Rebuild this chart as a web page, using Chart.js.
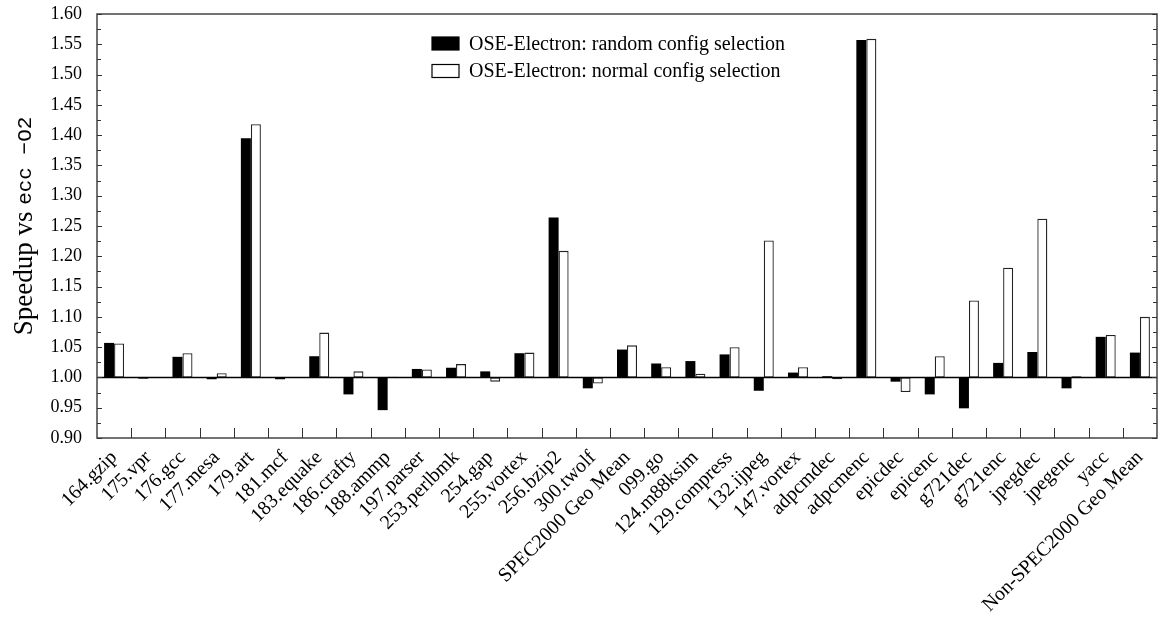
<!DOCTYPE html>
<html>
<head>
<meta charset="utf-8">
<script src="https://cdn.jsdelivr.net/npm/chart.js@4/dist/chart.umd.min.js"></script>
<style>
  html, body { margin: 0; padding: 0; background: #fff; }
  #wrap { width: 1158px; height: 619px; }
</style>
</head>
<body>
<div id="wrap"><canvas id="c" width="1158" height="619"></canvas></div>
<script>
const categories = ["164.gzip","175.vpr","176.gcc","177.mesa","179.art","181.mcf","183.equake","186.crafty","188.ammp","197.parser","253.perlbmk","254.gap","255.vortex","256.bzip2","300.twolf","SPEC2000 Geo Mean","099.go","124.m88ksim","129.compress","132.ijpeg","147.vortex","adpcmdec","adpcmenc","epicdec","epicenc","g721dec","g721enc","jpegdec","jpegenc","yacc","Non-SPEC2000 Geo Mean"];
const randomSel = [1.057,0.998,1.034,0.997,1.395,0.997,1.035,0.972,0.946,1.014,1.016,1.010,1.040,1.264,0.982,1.046,1.023,1.027,1.038,0.978,1.008,1.002,1.557,0.993,0.972,0.949,1.024,1.042,0.982,1.067,1.041];
const normalSel = [1.056,0.999,1.040,1.007,1.418,1.000,1.074,1.010,1.001,1.013,1.022,0.993,1.041,1.209,0.990,1.053,1.017,1.006,1.050,1.226,1.017,0.997,1.559,0.976,1.035,1.127,1.181,1.262,1.002,1.070,1.100];
const seriesLabels = ["OSE-Electron: random config selection","OSE-Electron: normal config selection"];
const BASE = 1.0;
const Y_MIN = 0.90, Y_MAX = 1.60, Y_STEP = 0.05, Y_MINOR = 0.025;
const yTitleSerif = "Speedup vs ";
const yTitleMono = "ecc \u2212O2";

const SERIF = '"Liberation Serif", "DejaVu Serif", serif';
const MONO = '"Liberation Mono", "DejaVu Sans Mono", monospace';

const decorPlugin = {
  id: 'decor',
  afterDatasetsDraw(chart) {
    const ctx = chart.ctx;
    const a = chart.chartArea;
    const x = chart.scales.x, y = chart.scales.y;
    ctx.save();
    const yb = y.getPixelForValue(BASE);
    ctx.strokeStyle = '#000';
    ctx.lineWidth = 1.5;
    ctx.beginPath(); ctx.moveTo(a.left, yb); ctx.lineTo(a.right, yb); ctx.stroke();
    ctx.strokeStyle = '#444';
    ctx.lineWidth = 1.5;
    ctx.strokeRect(a.left, a.top, a.right - a.left, a.bottom - a.top);
    ctx.lineWidth = 1;
    ctx.strokeStyle = '#333';
    const n = Math.round((Y_MAX - Y_MIN) / Y_MINOR);
    for (let i = 0; i <= n; i++) {
      const v = Y_MIN + i * Y_MINOR;
      const py = Math.round(y.getPixelForValue(v)) + 0.5;
      const len = (i % 2 === 0) ? 5 : 4;
      ctx.beginPath();
      ctx.moveTo(a.left, py); ctx.lineTo(a.left + len, py);
      ctx.moveTo(a.right, py); ctx.lineTo(a.right - len, py);
      ctx.stroke();
    }
    for (let i = 1; i < categories.length; i++) {
      const px = Math.round((x.getPixelForValue(i - 1) + x.getPixelForValue(i)) / 2) + 0.5;
      ctx.beginPath(); ctx.moveTo(px, a.bottom); ctx.lineTo(px, a.bottom - 10); ctx.stroke();
    }
    const ds = chart.data.datasets;
    const lx = 432, ly0 = 37, boxW = 27, boxH = 13, gap = 27.5;
    ctx.font = '20px ' + SERIF;
    ctx.textBaseline = 'middle';
    ctx.textAlign = 'left';
    ds.forEach((d, i) => {
      const by = ly0 + i * gap;
      ctx.fillStyle = d.backgroundColor;
      ctx.fillRect(lx, by, boxW, boxH);
      ctx.strokeStyle = '#000';
      ctx.lineWidth = 1.2;
      ctx.strokeRect(lx, by, boxW, boxH);
      ctx.fillStyle = '#000';
      ctx.fillText(d.label, 469, by + boxH / 2 + 1);
    });
    ctx.save();
    ctx.translate(25, (a.top + a.bottom) / 2);
    ctx.rotate(-Math.PI / 2);
    ctx.fillStyle = '#000';
    ctx.textBaseline = 'middle';
    ctx.font = '27px ' + SERIF;
    const w1 = ctx.measureText(yTitleSerif).width;
    ctx.font = '21px ' + MONO;
    const w2 = ctx.measureText(yTitleMono).width;
    let sx = -(w1 + w2) / 2;
    ctx.font = '27px ' + SERIF;
    ctx.textAlign = 'left';
    ctx.fillText(yTitleSerif, sx, 0);
    ctx.font = '21px ' + MONO;
    ctx.fillText(yTitleMono, sx + w1, 0);
    ctx.restore();
    ctx.restore();
  }
};

new Chart(document.getElementById('c'), {
  type: 'bar',
  data: {
    labels: categories,
    datasets: [
      { label: seriesLabels[0], data: randomSel.map(v => [BASE, v]), backgroundColor: '#000', borderColor: '#000', borderWidth: 0, borderSkipped: false },
      { label: seriesLabels[1], data: normalSel.map(v => [BASE, v]), backgroundColor: '#fff', borderColor: '#222', borderWidth: 1.3, borderSkipped: false }
    ]
  },
  options: {
    responsive: false,
    animation: false,
    devicePixelRatio: 1,
    layout: { padding: { top: 14, right: 1, left: 0, bottom: 0 } },
    datasets: { bar: { categoryPercentage: 0.585, barPercentage: 1.0, grouped: true } },
    plugins: { legend: { display: false }, tooltip: { enabled: false }, title: { display: false } },
    scales: {
      x: {
        grid: { display: false, drawTicks: false },
        border: { display: false },
        ticks: {
          autoSkip: false, minRotation: 45, maxRotation: 45, padding: 8,
          color: '#000', font: { family: SERIF, size: 20 }
        },
        afterFit(s) { s.height = 619 - 438; s.paddingRight = 0; s.paddingLeft = 0; }
      },
      y: {
        min: Y_MIN, max: Y_MAX,
        grid: { display: false, drawTicks: false },
        border: { display: false },
        ticks: {
          stepSize: Y_STEP, padding: 15, color: '#000',
          font: { family: SERIF, size: 18 },
          callback: v => Number(v).toFixed(2)
        },
        afterFit(s) { s.width = 97; s.paddingTop = 0; s.paddingBottom = 0; }
      }
    }
  },
  plugins: [decorPlugin]
});
</script>
</body>
</html>
